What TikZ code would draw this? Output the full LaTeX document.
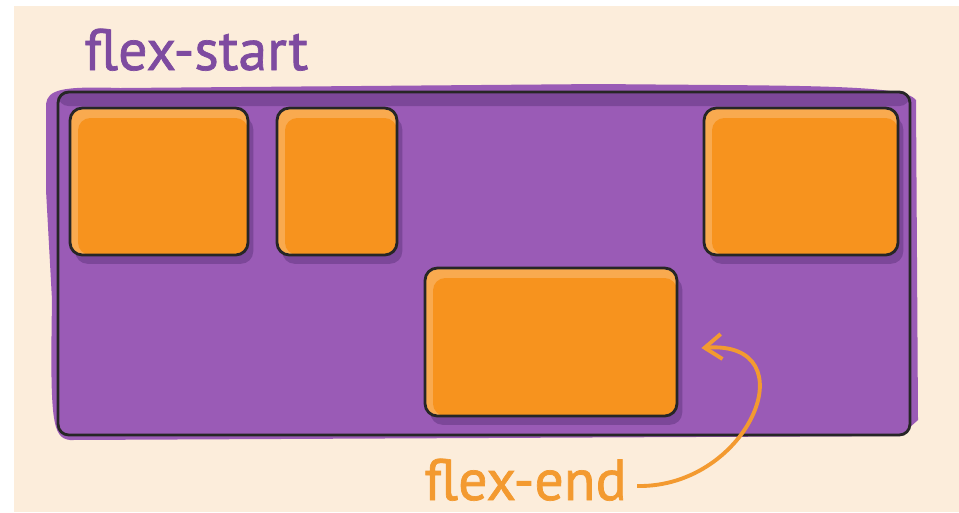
\documentclass[tikz,border=0pt]{standalone}
\usepackage{fontspec}
\setmainfont{PT Sans}
\newfontfamily\lblfont[FakeBold=1.2]{PT Sans}
\usepackage{tikz}
\usetikzlibrary{positioning,arrows.meta,shadows}
\definecolor{fxcream}{HTML}{FCEDDB}
\definecolor{fxpurple}{HTML}{9A5BB6}
\definecolor{fxpurpledk}{HTML}{7C4799}
\definecolor{fxplabel}{HTML}{7E4BA0}
\definecolor{fxorange}{HTML}{F7931E}
\definecolor{fxorangelt}{HTML}{F9AA4F}
\definecolor{fxolabel}{HTML}{F39A30}

\begin{document}
\begin{tikzpicture}[x=0.02cm,y=-0.02cm,
  box/.style={rectangle,rounded corners=7pt,draw=black!85,line width=1.6pt,fill=fxorangelt,
    minimum height=2.94cm,inner sep=0pt,
    drop shadow={shadow xshift=3pt,shadow yshift=-5pt,fill=fxpurpledk,opacity=1},
    path picture={\fill[fxorange] ([xshift=0.16cm,yshift=-0.2cm]path picture bounding box.north west) rectangle (path picture bounding box.south east);}},
  lbl/.style={font=\lblfont\fontsize{33}{36}\selectfont,inner sep=0pt,anchor=base west},
  ar/.style={-{Straight Barb[length=3.4mm,width=5mm,line width=2.2pt]},line width=2.2pt,fxolabel}]
  \useasboundingbox (0,0) rectangle (959,512);
  \fill[white] (0,0) rectangle (959,512);
  \fill[fxcream] (14,6) rectangle (959,512);
  % sketchy paint under the container
  \fill[fxpurple] (46,104) .. controls (48,90) and (60,86) .. (120,88) -- (600,84)
    .. controls (800,86) and (905,84) .. (916,100) -- (918,420) -- (900,436) -- (70,440)
    .. controls (52,438) and (50,420) .. (52,300) -- (46,190) -- cycle;
  \node[rectangle,rounded corners=6pt,draw=black!85,line width=1.6pt,fill=fxpurple,
    minimum width=17.04cm,minimum height=6.86cm,
    path picture={\fill[fxpurpledk] (path picture bounding box.north west) rectangle ([yshift=-0.28cm]path picture bounding box.north east);}]
    (cont) at (484,263.5) {};
  \node[box,minimum width=3.56cm] (b1) at (159,181.5) {};
  \node[box,minimum width=2.4cm] (b2) at (337,181.5) {};
  \node[box,minimum width=3.88cm] (b3) at (801,181.5) {};
  \node[box,minimum width=5.04cm,minimum height=2.96cm] (b4) at (551,342) {};
  \node[lbl,text=fxplabel] (fs) at (84,70) {flex-start};
  \node[lbl,text=fxolabel] (fe) at (424,500) {flex-end};
  \draw[ar] ([xshift=0.2cm,yshift=0.28cm]fe.base east) .. controls (750,488) and (810,340) .. ([xshift=0.46cm,yshift=-0.12cm]b4.east);
\end{tikzpicture}
\end{document}
